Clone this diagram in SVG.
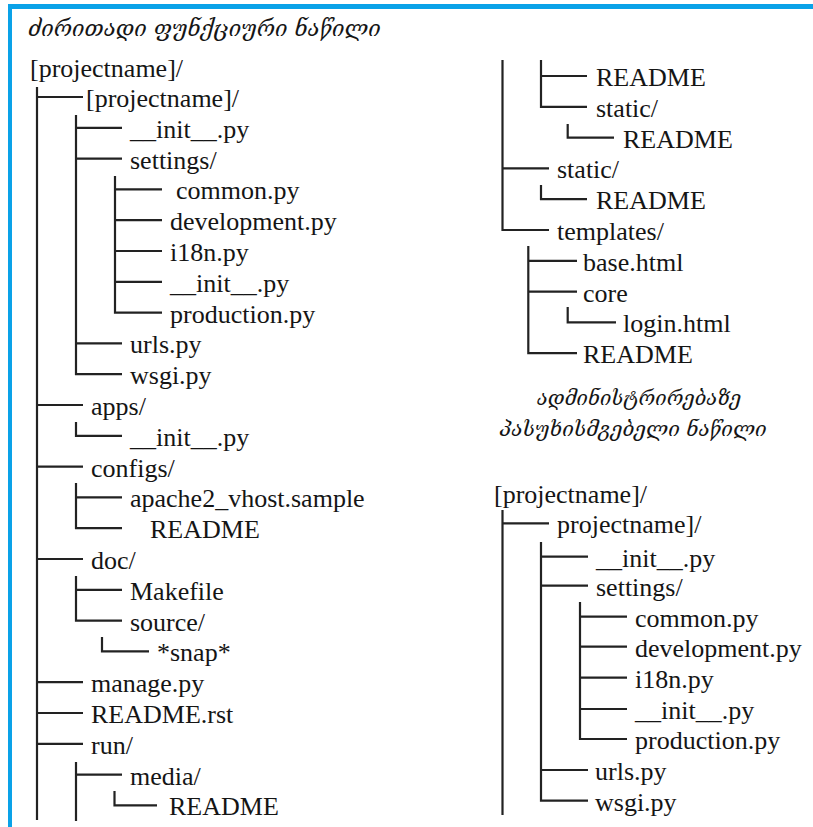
<svg xmlns="http://www.w3.org/2000/svg" width="813" height="827" viewBox="0 0 813 827">
<style>
.t{font-size:26px;fill:#151515}
.g{font-family:"DejaVu Serif","DejaVu Sans",serif;font-style:italic;fill:#151515}
.c{stroke:#222;stroke-width:2.2;fill:none}
.b{fill:#0AA2E8}
</style>
<rect width="813" height="827" fill="#fff"/>
<rect class="b" x="8" y="4" width="4" height="823"/>
<rect class="b" x="8" y="4" width="805" height="5"/>
<g id="connectors" class="c">
  <path d="M37 87V820"/>
  <path d="M37 97H83M37 405H83M37 466.6H83M37 559H83M37 682.2H83M37 713H83M37 743.8H83"/>
  <path d="M76 115V374.2H122M76 127.8H122M76 158.6H122M76 343.4H122"/>
  <path d="M115 176V312.6H162M115 189.4H162M115 220.2H162M115 251H162M115 281.8H162"/>
  <path d="M76 422V435.8H122"/>
  <path d="M76 483V528.2H122M76 497.4H122"/>
  <path d="M76 576V620.6H122M76 589.8H122"/>
  <path d="M102 637V651.4H149"/>
  <path d="M76 762V821M76 774.6H122"/>
  <path d="M114.5 791V805.4H157"/>
  <path d="M502.5 60V230H549M502.5 168.4H549"/>
  <path d="M541 60V106.8H587M541 76H587"/>
  <path d="M567.7 124V137.6H614"/>
  <path d="M541 185V199.2H587"/>
  <path d="M528.3 246V353.2H577M528.3 260.8H577M528.3 291.6H577"/>
  <path d="M567.7 307V322.4H616"/>
  <path d="M502.5 510V815M502.5 523.3H549"/>
  <path d="M541 542V800.7H588M541 556.7H588M541 585.7H588M541 770H588"/>
  <path d="M580 602V739H627M580 616.7H627M580 646.7H627M580 677.7H627M580 709H627"/>
</g>
<g id="title"><text class="g" x="28" y="36" font-size="22">ძირითადი ფუნქციური ნაწილი</text></g>
<g id="left-tree" font-family="Liberation Serif, Times New Roman, serif">
  <g id="n-root"><text class="t" x="30" y="77">[projectname]/</text></g>
  <g id="n-pn"><text class="t" x="86" y="107">[projectname]/</text></g>
  <g id="n-init1"><text class="t" x="130" y="137.8">__init__.py</text></g>
  <g id="n-settings"><text class="t" x="130" y="168.6">settings/</text></g>
  <g id="n-common"><text class="t" x="176" y="199.4">common.py</text></g>
  <g id="n-dev"><text class="t" x="170" y="230.2">development.py</text></g>
  <g id="n-i18n"><text class="t" x="170" y="261">i18n.py</text></g>
  <g id="n-init2"><text class="t" x="170" y="291.8">__init__.py</text></g>
  <g id="n-prod"><text class="t" x="170" y="322.6">production.py</text></g>
  <g id="n-urls"><text class="t" x="130" y="353.4">urls.py</text></g>
  <g id="n-wsgi"><text class="t" x="130" y="384.2">wsgi.py</text></g>
  <g id="n-apps"><text class="t" x="91" y="415">apps/</text></g>
  <g id="n-init3"><text class="t" x="130" y="445.8">__init__.py</text></g>
  <g id="n-configs"><text class="t" x="91" y="476.6">configs/</text></g>
  <g id="n-apache"><text class="t" x="130" y="507.4">apache2_vhost.sample</text></g>
  <g id="n-readme1"><text class="t" x="150" y="538.2">README</text></g>
  <g id="n-doc"><text class="t" x="91" y="569">doc/</text></g>
  <g id="n-makefile"><text class="t" x="130" y="599.8">Makefile</text></g>
  <g id="n-source"><text class="t" x="130" y="630.6">source/</text></g>
  <g id="n-snap"><text class="t" x="157" y="661.4">*snap*</text></g>
  <g id="n-manage"><text class="t" x="91" y="692.2">manage.py</text></g>
  <g id="n-readmerst"><text class="t" x="91" y="723">README.rst</text></g>
  <g id="n-run"><text class="t" x="91" y="753.8">run/</text></g>
  <g id="n-media"><text class="t" x="130" y="784.6">media/</text></g>
  <g id="n-readme2"><text class="t" x="169" y="815.4">README</text></g>
</g>
<g id="right-tree" font-family="Liberation Serif, Times New Roman, serif">
  <g id="n-readme3"><text class="t" x="596" y="86">README</text></g>
  <g id="n-static1"><text class="t" x="596" y="116.8">static/</text></g>
  <g id="n-readme4"><text class="t" x="623" y="147.6">README</text></g>
  <g id="n-static2"><text class="t" x="557" y="178.4">static/</text></g>
  <g id="n-readme5"><text class="t" x="596" y="209.2">README</text></g>
  <g id="n-templates"><text class="t" x="557" y="240">templates/</text></g>
  <g id="n-base"><text class="t" x="583" y="270.8">base.html</text></g>
  <g id="n-core"><text class="t" x="583" y="301.6">core</text></g>
  <g id="n-login"><text class="t" x="623" y="332.4">login.html</text></g>
  <g id="n-readme6"><text class="t" x="583" y="363.2">README</text></g>
</g>
<g id="subtitle">
  <text class="g" x="639" y="405" font-size="20" text-anchor="middle">ადმინისტრირებაზე</text>
  <text class="g" x="633" y="436" font-size="20.5" text-anchor="middle">პასუხისმგებელი ნაწილი</text>
</g>
<g id="admin-tree" font-family="Liberation Serif, Times New Roman, serif">
  <g id="a-root"><text class="t" x="494" y="503">[projectname]/</text></g>
  <g id="a-pn"><text class="t" x="557" y="533.3">projectname]/</text></g>
  <g id="a-init1"><text class="t" x="596" y="566.7">__init__.py</text></g>
  <g id="a-settings"><text class="t" x="596" y="595.7">settings/</text></g>
  <g id="a-common"><text class="t" x="635" y="626.7">common.py</text></g>
  <g id="a-dev"><text class="t" x="635" y="656.7">development.py</text></g>
  <g id="a-i18n"><text class="t" x="635" y="687.7">i18n.py</text></g>
  <g id="a-init2"><text class="t" x="635" y="719">__init__.py</text></g>
  <g id="a-prod"><text class="t" x="635" y="749">production.py</text></g>
  <g id="a-urls"><text class="t" x="595" y="780">urls.py</text></g>
  <g id="a-wsgi"><text class="t" x="595" y="810.7">wsgi.py</text></g>
</g>
</svg>
